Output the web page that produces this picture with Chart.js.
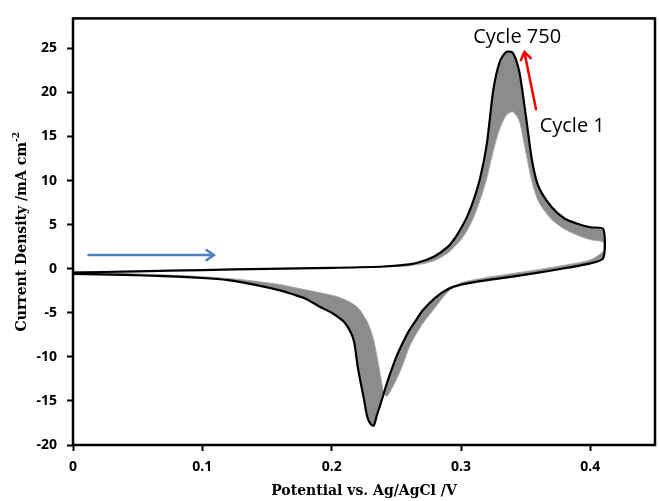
<!DOCTYPE html>
<html>
<head>
<meta charset="utf-8">
<script src="https://cdn.jsdelivr.net/npm/chart.js@4.4.1/dist/chart.umd.min.js"></script>
<style>
    html, body { margin: 0; padding: 0; background: #fff; }
</style>
</head>
<body>
<canvas id="cvChart" width="659" height="501"></canvas>
<script>
// Potential grid (V vs Ag/AgCl), anodic sweep then cathodic sweep
const potentialForward = [0, 0.05, 0.1, 0.15, 0.2, 0.24, 0.26, 0.27, 0.28, 0.29, 0.295, 0.3, 0.305, 0.31, 0.315,
    0.32, 0.325, 0.33, 0.335, 0.34, 0.345, 0.35, 0.355, 0.36, 0.37, 0.38, 0.39, 0.4, 0.41];
const potentialReverse = [0.41, 0.4, 0.38, 0.36, 0.34, 0.32, 0.3, 0.29, 0.28, 0.27, 0.265, 0.26, 0.255, 0.25, 0.245,
    0.2425, 0.24, 0.2375, 0.235, 0.2325, 0.23, 0.2275, 0.225, 0.2225, 0.22, 0.2175, 0.215, 0.21, 0.205, 0.2,
    0.19, 0.18, 0.17, 0.16, 0.14, 0.12, 0.1, 0.07, 0.04, 0];

// Current density (mA cm-2)
const cycle1Forward = [-0.35, -0.25, -0.12, 0.0, 0.1, 0.2, 0.35, 0.55, 0.95, 1.8, 2.5, 3.3, 4.4, 5.9, 7.9,
    10.3, 13.4, 15.9, 17.4, 17.8, 16.8, 13.3, 9.8, 7.6, 5.6, 4.5, 3.8, 3.3, 3.0];
const cycle1Reverse = [2.0, 1.0, 0.4, -0.1, -0.55, -1.0, -1.6, -2.6, -4.4, -6.3, -7.5, -8.9, -10.9, -12.6, -14.0,
    -14.5, -13.9, -11.9, -9.9, -8.1, -6.9, -6.0, -5.4, -4.8, -4.4, -4.1, -3.85, -3.5, -3.2, -3.0,
    -2.7, -2.4, -2.1, -1.8, -1.4, -1.1, -0.9, -0.7, -0.55, -0.45];

const cycle750Forward = [-0.45, -0.3, -0.15, -0.02, 0.1, 0.25, 0.5, 0.85, 1.45, 2.5, 3.4, 4.6, 6.0, 7.9, 10.4,
    14.2, 20.3, 23.5, 24.6, 24.5, 22.4, 17.5, 12.2, 9.3, 7.0, 5.7, 5.1, 4.7, 4.5];
const cycle750Reverse = [1.2, 0.6, 0.05, -0.45, -0.9, -1.3, -1.8, -2.3, -3.3, -4.8, -5.9, -7.0, -8.4, -10.0, -12.0,
    -13.1, -14.3, -15.5, -16.6, -17.8, -17.6, -16.8, -14.8, -13.0, -11.0, -8.4, -7.3, -6.1, -5.5, -5.0,
    -4.25, -3.4, -2.9, -2.45, -1.8, -1.3, -1.05, -0.85, -0.7, -0.6];

const xTicks = [0, 0.1, 0.2, 0.3, 0.4];
const yTicks = [-20, -15, -10, -5, 0, 5, 10, 15, 20, 25];

function toPoints(fwd, rev) {
    const pts = potentialForward.map((v, i) => ({ x: v, y: fwd[i] }));
    return pts.concat(potentialReverse.map((v, i) => ({ x: v, y: rev[i] })));
}

function tracePath(c, line, pts, area) {
    if (line && line.updateControlPoints) line.updateControlPoints(area, 'x');
    c.moveTo(pts[0].x, pts[0].y);
    for (let i = 1; i < pts.length; i++) {
        const a = pts[i - 1], b = pts[i];
        if (a.cp2x !== undefined && b.cp1x !== undefined) {
            c.bezierCurveTo(a.cp2x, a.cp2y, b.cp1x, b.cp1y, b.x, b.y);
        } else {
            c.lineTo(b.x, b.y);
        }
    }
    c.closePath();
}

// shade the spread between first and last cycle (the many intermediate scans)
const bandFill = {
    id: 'bandFill',
    beforeDatasetsDraw(chart) {
        const c = chart.ctx;
        c.save();
        c.beginPath();
        [0, 1].forEach(i => {
            const meta = chart.getDatasetMeta(i);
            tracePath(c, meta.dataset, meta.data, chart.chartArea);
        });
        c.fillStyle = 'rgba(0,0,0,0.45)';
        c.fill('evenodd');
        c.restore();
    }
};

function arrow(c, x1, y1, x2, y2, color, width, head) {
    const ang = Math.atan2(y2 - y1, x2 - x1);
    c.save();
    c.strokeStyle = color;
    c.lineWidth = width;
    c.lineCap = 'round';
    c.beginPath();
    c.moveTo(x1, y1);
    c.lineTo(x2, y2);
    c.moveTo(x2 - head * Math.cos(ang - 0.6), y2 - head * Math.sin(ang - 0.6));
    c.lineTo(x2, y2);
    c.lineTo(x2 - head * Math.cos(ang + 0.6), y2 - head * Math.sin(ang + 0.6));
    c.stroke();
    c.restore();
}

const frameAndNotes = {
    id: 'frameAndNotes',
    afterDraw(chart) {
        const c = chart.ctx;
        const { left, right, top, bottom } = chart.chartArea;
        const xs = chart.scales.x, ys = chart.scales.y;

        c.save();
        c.strokeStyle = '#000';
        c.lineWidth = 2.5;
        c.strokeRect(left, top, right - left, bottom - top);

        // scan direction and cycle arrows
        arrow(c, xs.getPixelForValue(0.012), ys.getPixelForValue(1.55),
            xs.getPixelForValue(0.109), ys.getPixelForValue(1.55), '#4f81bd', 2.5, 9);
        arrow(c, xs.getPixelForValue(0.358), ys.getPixelForValue(18.1),
            xs.getPixelForValue(0.349), ys.getPixelForValue(24.6), '#ff0000', 2.5, 9);

        c.fillStyle = '#000';
        c.font = '20px "Open Sans"';
        c.textAlign = 'center';
        c.textBaseline = 'middle';
        c.fillText('Cycle 750', xs.getPixelForValue(0.3434), ys.getPixelForValue(26.2));
        c.fillText('Cycle 1', xs.getPixelForValue(0.386), ys.getPixelForValue(16.2));

        // axis titles
        c.font = 'bold 14px "DejaVu Serif"';
        c.fillText('Potential vs. Ag/AgCl /V', (left + right) / 2, 491);

        c.translate(22, (top + bottom) / 2);
        c.rotate(-Math.PI / 2);
        const main = 'Current Density /mA cm';
        const mainW = c.measureText(main).width;
        c.font = 'bold 9px "DejaVu Serif"';
        const supW = c.measureText('-2').width;
        const x0 = -(mainW + supW) / 2;
        c.textAlign = 'left';
        c.fillText('-2', x0 + mainW, -5);
        c.font = 'bold 14px "DejaVu Serif"';
        c.fillText(main, x0, 0);
        c.restore();
    }
};

const tickFont = { family: 'Open Sans', weight: 'bold', size: 14 };

new Chart(document.getElementById('cvChart').getContext('2d'), {
    type: 'scatter',
    data: {
        datasets: [
            {
                label: 'Cycle 750',
                data: toPoints(cycle750Forward, cycle750Reverse),
                showLine: true,
                borderColor: '#000000',
                borderWidth: 2.2,
                pointRadius: 0,
                tension: 0.25
            },
            {
                label: 'Cycle 1',
                data: toPoints(cycle1Forward, cycle1Reverse),
                showLine: true,
                borderColor: '#a8a8a8',
                borderWidth: 1,
                pointRadius: 0,
                tension: 0.25
            }
        ]
    },
    options: {
        responsive: false,
        animation: false,
        devicePixelRatio: 1,
        layout: { padding: { top: 18, right: 4, left: 0, bottom: 0 } },
        plugins: {
            legend: { display: false },
            tooltip: { enabled: false }
        },
        scales: {
            x: {
                type: 'linear',
                min: 0,
                max: 0.45,
                afterBuildTicks: s => { s.ticks = xTicks.map(v => ({ value: v })); },
                afterFit: s => { s.height = 56; },
                border: { display: false },
                grid: { drawOnChartArea: false, color: '#000', tickLength: 6, tickWidth: 2 },
                ticks: { color: '#000', font: tickFont, padding: 8, maxRotation: 0, callback: v => String(v) }
            },
            y: {
                type: 'linear',
                min: -20,
                max: 28.4,
                afterBuildTicks: s => { s.ticks = yTicks.map(v => ({ value: v })); },
                afterFit: s => { s.width = 73; },
                border: { display: false },
                grid: { drawOnChartArea: false, color: '#000', tickLength: 6, tickWidth: 2 },
                ticks: { color: '#000', font: tickFont, padding: 10, callback: v => String(v) }
            }
        }
    },
    plugins: [bandFill, frameAndNotes]
});
</script>
</body>
</html>
